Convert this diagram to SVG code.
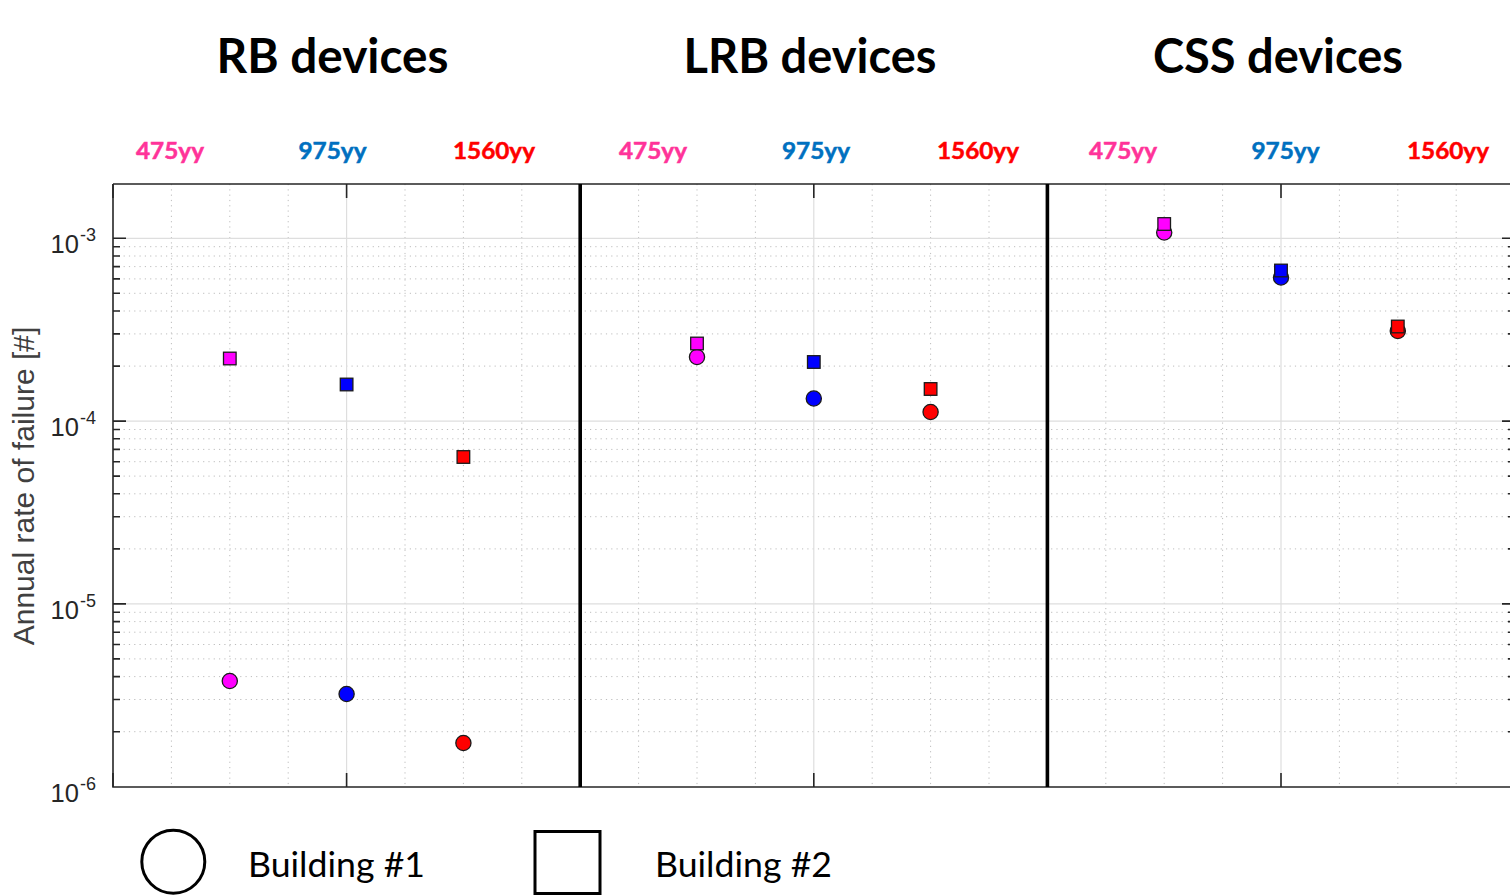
<svg xmlns="http://www.w3.org/2000/svg" width="1510" height="895" viewBox="0 0 1510 895">
<style>
.title{font-family:Lato,"Liberation Sans",sans-serif;font-weight:bold;font-size:47px;fill:#000;text-anchor:middle}
.yr{font-family:Lato,"Liberation Sans",sans-serif;font-weight:bold;font-size:22.5px;text-anchor:middle;stroke-width:0.5}
.y475{fill:#ff3399;stroke:#ff3399}.y975{fill:#0070c0;stroke:#0070c0}.y1560{fill:#ff0000;stroke:#ff0000}
.tick10{font-family:"Liberation Sans",Arial,sans-serif;font-size:25.5px;fill:#262626}
.tickexp{font-family:"Liberation Sans",Arial,sans-serif;font-size:18px;fill:#262626}
.ylab{font-family:"Liberation Sans",Arial,sans-serif;font-size:30px;fill:#404040;text-anchor:middle}
.leg{font-family:Lato,"Liberation Sans",sans-serif;font-size:34px;fill:#000}
.dot{stroke:#bdbdbd;stroke-width:1;stroke-dasharray:1.2 4.1;fill:none}
.major{stroke:#dedede;stroke-width:1.2;fill:none}
.axis{stroke:#262626;stroke-width:1.6;fill:none}
.sep{stroke:#000;stroke-width:3.6}
.mk{stroke:#1a1a1a;stroke-width:1.3}
.mag{fill:#ff00ff}.blu{fill:#0000ff}.red{fill:#ff0000}
</style>

<rect x="0" y="0" width="1510" height="895" fill="#fff"/>

<g id="titles">
<text class="title" x="332.5" y="72.7" textLength="232" lengthAdjust="spacingAndGlyphs">RB devices</text>
<text class="title" x="810" y="72.7" textLength="253" lengthAdjust="spacingAndGlyphs">LRB devices</text>
<text class="title" x="1278" y="72.7" textLength="250" lengthAdjust="spacingAndGlyphs">CSS devices</text>
</g>

<g id="year-labels">
<text class="yr y475" x="170" y="158.5" textLength="68" lengthAdjust="spacingAndGlyphs">475yy</text>
<text class="yr y975" x="332.5" y="158.5" textLength="68" lengthAdjust="spacingAndGlyphs">975yy</text>
<text class="yr y1560" x="494" y="158.5" textLength="82" lengthAdjust="spacingAndGlyphs">1560yy</text>
<text class="yr y475" x="653" y="158.5" textLength="68" lengthAdjust="spacingAndGlyphs">475yy</text>
<text class="yr y975" x="816" y="158.5" textLength="68" lengthAdjust="spacingAndGlyphs">975yy</text>
<text class="yr y1560" x="978" y="158.5" textLength="82" lengthAdjust="spacingAndGlyphs">1560yy</text>
<text class="yr y475" x="1123" y="158.5" textLength="68" lengthAdjust="spacingAndGlyphs">475yy</text>
<text class="yr y975" x="1285.5" y="158.5" textLength="68" lengthAdjust="spacingAndGlyphs">975yy</text>
<text class="yr y1560" x="1448" y="158.5" textLength="82" lengthAdjust="spacingAndGlyphs">1560yy</text>
</g>

<g id="grid">
<path class="dot" d="M171.4 184V787M229.8 184V787M288.2 184V787M405 184V787M463.4 184V787M521.8 184V787M638.6 184V787M697 184V787M755.4 184V787M872.2 184V787M930.6 184V787M989 184V787M1105.8 184V787M1164.2 184V787M1222.6 184V787M1339.4 184V787M1397.8 184V787M1456.2 184V787"/>
<path class="dot" d="M113 731.7H1515M113 699.5H1515M113 676.6H1515M113 658.9H1515M113 644.5H1515M113 632.2H1515M113 621.6H1515M113 612.3H1515
M113 548.9H1515M113 516.7H1515M113 493.8H1515M113 476.1H1515M113 461.7H1515M113 449.4H1515M113 438.8H1515M113 429.5H1515
M113 366.1H1515M113 333.9H1515M113 311H1515M113 293.3H1515M113 278.9H1515M113 266.6H1515M113 256H1515M113 246.7H1515"/>
<path class="major" d="M113 238.3H1515M113 421.1H1515M113 603.9H1515M346.6 184V787M813.8 184V787M1281 184V787"/>
</g>

<g id="axes">
<path class="axis" d="M113 184V787H1515M113 184H1515"/>
<path class="axis" d="M113 238.3h13M113 421.1h13M113 603.9h13M1515 238.3h-13M1515 421.1h-13M1515 603.9h-13"/>
<path class="axis" d="M113 731.7h7M113 699.5h7M113 676.6h7M113 658.9h7M113 644.5h7M113 632.2h7M113 621.6h7M113 612.3h7
M113 548.9h7M113 516.7h7M113 493.8h7M113 476.1h7M113 461.7h7M113 449.4h7M113 438.8h7M113 429.5h7
M113 366.1h7M113 333.9h7M113 311h7M113 293.3h7M113 278.9h7M113 266.6h7M113 256h7M113 246.7h7
M1515 731.7h-7M1515 699.5h-7M1515 676.6h-7M1515 658.9h-7M1515 644.5h-7M1515 632.2h-7M1515 621.6h-7M1515 612.3h-7
M1515 548.9h-7M1515 516.7h-7M1515 493.8h-7M1515 476.1h-7M1515 461.7h-7M1515 449.4h-7M1515 438.8h-7M1515 429.5h-7
M1515 366.1h-7M1515 333.9h-7M1515 311h-7M1515 293.3h-7M1515 278.9h-7M1515 266.6h-7M1515 256h-7M1515 246.7h-7"/>
<path class="axis" d="M113 184v14M346.6 184v14M813.8 184v14M1281 184v14M113 787v-14M346.6 787v-14M813.8 787v-14M1281 787v-14"/>
<path class="sep" d="M580.2 184V787M1047.4 184V787"/>
</g>

<g id="tick-labels">
<text class="tick10" x="50.5" y="253.3">10</text><text class="tickexp" x="80" y="241">-3</text>
<text class="tick10" x="50.5" y="436.1">10</text><text class="tickexp" x="80" y="424">-4</text>
<text class="tick10" x="50.5" y="618.9">10</text><text class="tickexp" x="80" y="607">-5</text>
<text class="tick10" x="50.5" y="801.7">10</text><text class="tickexp" x="80" y="790">-6</text>
</g>

<text id="y-label" class="ylab" transform="translate(33.5 486) rotate(-90)">Annual rate of failure [#]</text>

<g id="building1-points">
<circle class="mk mag" cx="229.8" cy="681" r="7.6"/>
<circle class="mk blu" cx="346.6" cy="694" r="7.6"/>
<circle class="mk red" cx="463.4" cy="743" r="7.6"/>
<circle class="mk mag" cx="697" cy="357" r="7.6"/>
<circle class="mk blu" cx="813.8" cy="398.5" r="7.6"/>
<circle class="mk red" cx="930.6" cy="412" r="7.6"/>
<circle class="mk mag" cx="1164.2" cy="232.5" r="7.6"/>
<circle class="mk blu" cx="1281" cy="277.5" r="7.6"/>
<circle class="mk red" cx="1397.8" cy="331" r="7.6"/>
</g>

<g id="building2-points">
<rect class="mk mag" x="223.5" y="352.2" width="12.6" height="12.6"/>
<rect class="mk blu" x="340.3" y="378.2" width="12.6" height="12.6"/>
<rect class="mk red" x="457.1" y="450.7" width="12.6" height="12.6"/>
<rect class="mk mag" x="690.7" y="337.2" width="12.6" height="12.6"/>
<rect class="mk blu" x="807.5" y="355.7" width="12.6" height="12.6"/>
<rect class="mk red" x="924.3" y="382.7" width="12.6" height="12.6"/>
<rect class="mk mag" x="1157.9" y="217.7" width="12.6" height="12.6"/>
<rect class="mk blu" x="1274.7" y="264.2" width="12.6" height="12.6"/>
<rect class="mk red" x="1391.5" y="320.2" width="12.6" height="12.6"/>
</g>

<g id="legend-building1">
<circle cx="173.3" cy="861.7" r="31.5" fill="none" stroke="#000" stroke-width="3"/>
<text class="leg" x="248" y="877" textLength="177" lengthAdjust="spacingAndGlyphs">Building #1</text>
</g>
<g id="legend-building2">
<rect x="535" y="831.5" width="65" height="62" fill="none" stroke="#000" stroke-width="3"/>
<text class="leg" x="655" y="877" textLength="177" lengthAdjust="spacingAndGlyphs">Building #2</text>
</g>
</svg>
